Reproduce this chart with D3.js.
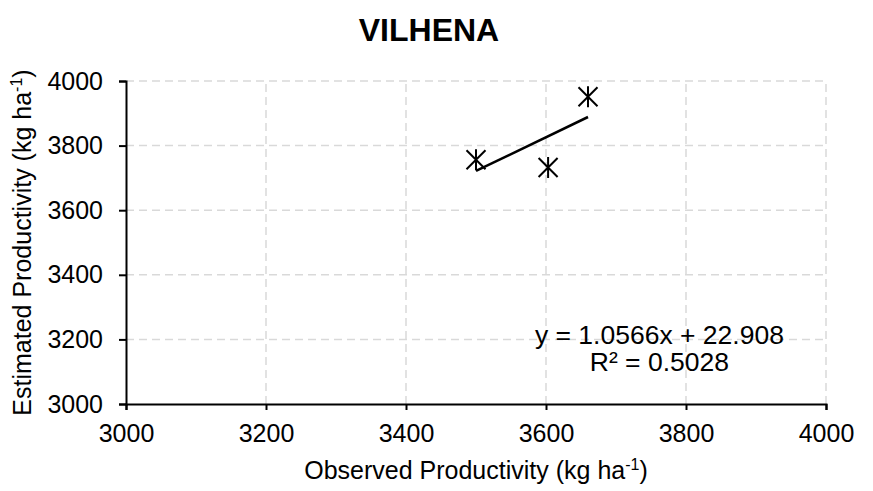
<!DOCTYPE html>
<html>
<head>
<meta charset="utf-8">
<script src="https://cdn.jsdelivr.net/npm/d3@7"></script>
<style>
  body { margin: 0; background: #fff; }
  text { font-family: Arial, "Liberation Sans", sans-serif; fill: #000; }
  .grid line { stroke: #d9d9d9; stroke-width: 1.5; stroke-dasharray: 8,5; }
</style>
</head>
<body>
<div id="chart"></div>
<script>
// observed vs estimated productivity, Vilhena
var observed = [3500, 3603, 3660];
var estimated = [3756, 3732, 3951];
var xTicks = [3000, 3200, 3400, 3600, 3800, 4000];
var yTicks = [3000, 3200, 3400, 3600, 3800, 4000];
var equationText = "y = 1.0566x + 22.908";
var r2Text = "R\u00b2 = 0.5028";

var width = 873, height = 491;
var margin = {top: 81, right: 47, bottom: 87, left: 126};

var svg = d3.select("#chart").append("svg")
    .attr("width", width)
    .attr("height", height);

var x = d3.scaleLinear().domain([3000, 4000]).range([margin.left, width - margin.right]);
var y = d3.scaleLinear().domain([3000, 4000]).range([height - margin.bottom, margin.top]);

// gridlines
var grid = svg.append("g").attr("class", "grid");
grid.selectAll(".hg")
    .data(yTicks.filter(d => d > 3000))
    .enter().append("line")
    .attr("x1", x(3000)).attr("x2", x(4000))
    .attr("y1", d => y(d)).attr("y2", d => y(d));
grid.selectAll(".vg")
    .data(xTicks.filter(d => d > 3000))
    .enter().append("line")
    .attr("y1", y(3000)).attr("y2", y(4000))
    .attr("x1", d => x(d)).attr("x2", d => x(d));

// axes
var xAxis = svg.append("g")
    .attr("transform", "translate(0," + y(3000) + ")")
    .call(d3.axisBottom(x).tickValues(xTicks).tickSize(6).tickPadding(14).tickFormat(d3.format("d")));
var yAxis = svg.append("g")
    .attr("transform", "translate(" + x(3000) + ",0)")
    .call(d3.axisLeft(y).tickValues(yTicks).tickSize(7).tickPadding(16).tickFormat(d3.format("d")));

[xAxis, yAxis].forEach(a => {
    a.select(".domain").attr("stroke", "#000").attr("stroke-width", 2);
    a.selectAll(".tick line").attr("stroke", "#000").attr("stroke-width", 2);
    a.selectAll(".tick text").style("font-size", "25px").attr("font-family", null).attr("fill", "#000");
});

// linear trendline from the points
var mx = d3.mean(observed), my = d3.mean(estimated);
var sxy = d3.sum(observed, (v, i) => (v - mx) * (estimated[i] - my));
var sxx = d3.sum(observed, v => (v - mx) * (v - mx));
var slope = sxy / sxx, intercept = my - slope * mx;
var xMin = d3.min(observed), xMax = d3.max(observed);

svg.append("line")
    .attr("x1", x(xMin)).attr("y1", y(slope * xMin + intercept))
    .attr("x2", x(xMax)).attr("y2", y(slope * xMax + intercept))
    .attr("stroke", "#000")
    .attr("stroke-width", 2.5);

// asterisk markers
var s = 9.5;
svg.selectAll(".pt")
    .data(observed)
    .enter().append("path")
    .attr("class", "pt")
    .attr("transform", (d, i) => "translate(" + x(d) + "," + y(estimated[i]) + ")")
    .attr("d", "M" + (-s) + "," + (-s) + "L" + s + "," + s +
               "M" + (-s) + "," + s + "L" + s + "," + (-s) +
               "M0," + (-s - 1) + "L0," + (s + 1))
    .attr("stroke", "#000")
    .attr("stroke-width", 2)
    .attr("fill", "none");

// equation label
svg.append("text")
    .attr("x", x(3762)).attr("y", 344)
    .attr("text-anchor", "middle")
    .style("font-size", "26.5px")
    .text(equationText);
svg.append("text")
    .attr("x", x(3762)).attr("y", 371)
    .attr("text-anchor", "middle")
    .style("font-size", "26.5px")
    .text(r2Text);

// title
svg.append("text")
    .attr("x", 429).attr("y", 41)
    .attr("text-anchor", "middle")
    .style("font-size", "32px")
    .style("font-weight", "bold")
    .text("VILHENA");

// axis titles
var xt = svg.append("text")
    .attr("x", (x(3000) + x(4000)) / 2).attr("y", 479)
    .attr("text-anchor", "middle")
    .style("font-size", "25px");
xt.append("tspan").text("Observed Productivity (kg ha");
xt.append("tspan").attr("dy", -9).style("font-size", "16px").text("-1");
xt.append("tspan").attr("dy", 9).text(")");

var yt = svg.append("text")
    .attr("transform", "translate(31," + (y(3000) + y(4000)) / 2 + ") rotate(-90)")
    .attr("text-anchor", "middle")
    .style("font-size", "25px");
yt.append("tspan").text("Estimated Productivity (kg ha");
yt.append("tspan").attr("dy", -9).style("font-size", "16px").text("-1");
yt.append("tspan").attr("dy", 9).text(")");
</script>
</body>
</html>
